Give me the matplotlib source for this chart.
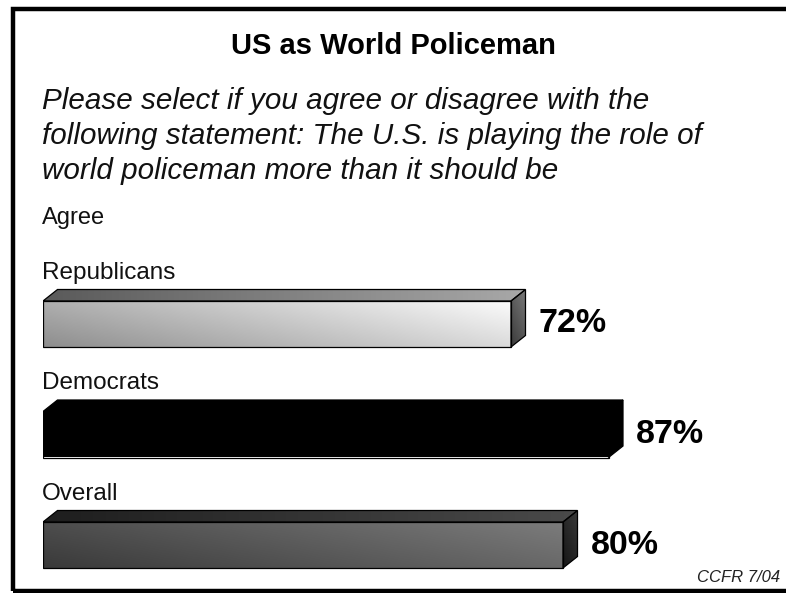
import numpy as np
import matplotlib.pyplot as plt
from matplotlib.patches import Polygon, Rectangle
from matplotlib.colors import LinearSegmentedColormap

groups = ["Republicans", "Democrats", "Overall"]
agree = [72, 87, 80]
value_labels = ["72%", "87%", "80%"]

title = "US as World Policeman"
question = ["Please select if you agree or disagree with the",
            "following statement: The U.S. is playing the role of",
            "world policeman more than it should be"]
source = "CCFR 7/04"

# face shading per bar: (front, top, side) as (dark, light) colour pairs
shades = [
    (("#8e8e8e", "#fbfbfb"), ("#5a5a5a", "#a8a8a8"), ("#3a3a3a", "#7a7a7a")),
    (("#000000", "#000000"), ("#000000", "#000000"), ("#000000", "#000000")),
    (("#3a3a3a", "#7c7c7c"), ("#1e1e1e", "#4a4a4a"), ("#151515", "#3a3a3a")),
]

plt.rcParams["font.family"] = ["Liberation Sans", "DejaVu Sans"]

W, H = 786, 593
fig = plt.figure(figsize=(W / 100, H / 100), dpi=100)
fig.patch.set_facecolor("white")

# pixel scale of the bar area
px_per_pct = 6.5
px_per_row = 110.5
first_row_px = 324
x0_px = 43

ax = fig.add_axes([x0_px / W, 0, 1 - x0_px / W, 1])
ax.axis("off")

half = 23 / px_per_row
dx = 14.5 / px_per_pct
dy = 11.5 / px_per_row


def shade_face(pts, c_dark, c_light, tilt=0.3):
    pts = np.asarray(pts)
    xmin, xmax = pts[:, 0].min(), pts[:, 0].max()
    ymin, ymax = pts[:, 1].min(), pts[:, 1].max()
    cmap = LinearSegmentedColormap.from_list("f", [c_dark, c_light])
    gx = np.linspace(0, 1, 200)[None, :]
    gy = np.linspace(1, 0, 40)[:, None]  # row 0 at visual top
    z = (1 - tilt) * gx + tilt * gy
    im = ax.imshow(z, cmap=cmap, vmin=0, vmax=1, aspect="auto",
                   origin="lower", extent=(xmin, xmax, ymin, ymax),
                   interpolation="bilinear", zorder=2)
    poly = Polygon(pts, closed=True, facecolor="none", edgecolor="black",
                   linewidth=0.9, zorder=3)
    ax.add_patch(poly)
    im.set_clip_path(poly)


for i, (name, v, lab, sh) in enumerate(zip(groups, agree, value_labels, shades)):
    y = i
    top, bot = y - half, y + half
    front = [(0, top), (v, top), (v, bot), (0, bot)]
    upper = [(0, top), (dx, top - dy), (v + dx, top - dy), (v, top)]
    side = [(v, top), (v + dx, top - dy), (v + dx, bot - dy), (v, bot)]
    shade_face(front, *sh[0], tilt=0.3)
    shade_face(upper, *sh[1], tilt=0.0)
    shade_face(side, *sh[2], tilt=0.6)
    ax.text(-0.2, top - dy - 0.05, name, fontsize=17.5, ha="left",
            va="bottom", color="#111111")
    ax.text(v + dx + 2.0, y, lab, fontsize=24.5, fontweight="bold",
            ha="left", va="center")

ax.set_xlim(0, (W - x0_px) / px_per_pct)
ax.set_ylim((H - first_row_px) / px_per_row, -first_row_px / px_per_row)

fig.text(393 / W, 1 - 46 / H, title, fontsize=21, fontweight="bold",
         ha="center", va="center")
for k, line in enumerate(question):
    fig.text(42 / W, 1 - (101 + 35 * k) / H, line, fontsize=21.3,
             style="italic", ha="left", va="center", color="#111111")
fig.text(42 / W, 1 - 218 / H, "Agree", fontsize=17, ha="left",
         va="center", color="#111111")
fig.text(780 / W, 1 - 577 / H, source, fontsize=12, style="italic",
         ha="right", va="center", color="#222222")

# page frame: left, top and bottom rules
frame = Rectangle((13 / W, 2.5 / H), 1.0, (H - 11.5) / H,
                  transform=fig.transFigure, fill=False,
                  edgecolor="black", linewidth=3.2, zorder=10)
fig.patches.append(frame)

fig.savefig("out.png", dpi=100)
